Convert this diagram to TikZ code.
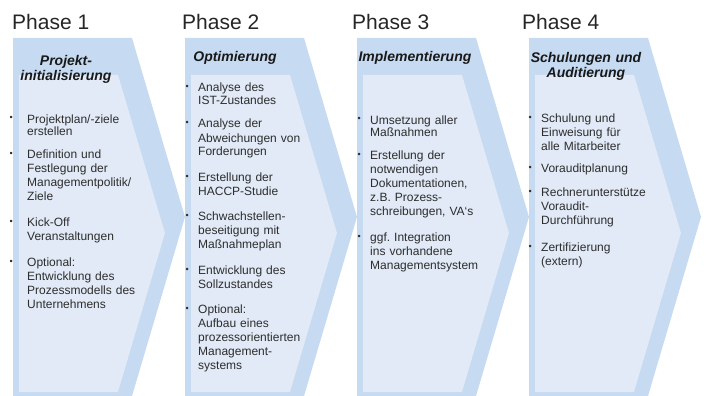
\documentclass[tikz,border=0pt]{standalone}
\usepackage{fontspec}
\setmainfont{Liberation Sans}
\usepackage{xcolor}
\definecolor{bandblue}{RGB}{198,218,241}
\definecolor{paleblue}{RGB}{225,234,246}
\definecolor{textgray}{RGB}{45,45,45}
\frenchspacing
\newcommand{\bul}[1]{\llap{\raisebox{2pt}{\fontsize{9}{9}\selectfont\textbullet}\hspace{#1}}}
\tikzset{
    phase/.style={font=\fontsize{21}{21}\selectfont, text=black!85, anchor=base west, inner sep=0pt},
    heading/.style={font=\fontsize{14}{15}\selectfont\bfseries\itshape, text=black!90, text width=130pt, align=center, anchor=base, inner sep=0pt},
    entry/.style={font=\fontsize{12}{14}\selectfont, text=textgray, text width=150pt, align=left, anchor=base west, inner sep=0pt},
    tight/.style={font=\fontsize{12}{11}\selectfont}
}

\begin{document}
\begin{tikzpicture}[x=1pt, y=-1pt]
    \useasboundingbox (0,0) rectangle (707,396);

    % Chevrons
    \foreach \o in {0,172,344,516} {
        \fill[bandblue] (13+\o,38) -- (132+\o,38) -- (185+\o,217) -- (132+\o,396) -- (13+\o,396) -- cycle;
        \fill[paleblue] (19+\o,75) -- (118+\o,75) -- (165+\o,233) -- (118+\o,392) -- (19+\o,392) -- cycle;
    }

    % Phase titles
    \node[phase] (p1) at (12,30) {Phase 1};
    \node[phase] (p2) at (182,30) {Phase 2};
    \node[phase] (p3) at (352,30) {Phase 3};
    \node[phase] (p4) at (522,30) {Phase 4};

    \node[heading] (h1) at (66,66) {Projekt-\\initialisierung};
    \node[heading] (h2) at (235,62) {Optimierung};
    \node[heading] (h3) at (415,62) {Implementierung};
    \node[heading] (h4) at (586,63) {Schulungen und\\Auditierung};

    % Phase 1
    \node[entry, tight] (e11) at (27,123) {\bul{14.5pt}Projektplan/-ziele\\erstellen};
    \node[entry] (e12) at (27,158) {\bul{14.5pt}Definition und\\Festlegung der\\Managementpolitik/\\Ziele};
    \node[entry] (e13) at (27,226) {\bul{14.5pt}Kick-Off\\Veranstaltungen};
    \node[entry] (e14) at (27,266) {\bul{14.5pt}Optional:\\Entwicklung des\\Prozessmodells des\\Unternehmens};

    % Phase 2
    \node[entry, tight] (e21) at (198,92) {\bul{9.5pt}Analyse des\\IST-Zustandes};
    \node[entry] (e22) at (198,128) {\bul{9.5pt}Analyse der\\Abweichungen von\\Forderungen};
    \node[entry] (e23) at (198,181) {\bul{9.5pt}Erstellung der\\HACCP-Studie};
    \node[entry] (e24) at (198,220) {\bul{9.5pt}Schwachstellen-\\beseitigung mit\\Maßnahmeplan};
    \node[entry] (e25) at (198,274) {\bul{9.5pt}Entwicklung des\\Sollzustandes};
    \node[entry] (e26) at (198,313) {\bul{9.5pt}Optional:\\Aufbau eines\\prozessorientierten\\Management-\\systems};

    % Phase 3
    \node[entry, tight] (e31) at (370,124) {\bul{9.5pt}Umsetzung aller\\Maßnahmen};
    \node[entry] (e32) at (370,159) {\bul{9.5pt}Erstellung der\\notwendigen\\Dokumentationen,\\z.B. Prozess-\\schreibungen, VA‘s};
    \node[entry] (e33) at (370,241) {\bul{9.5pt}ggf. Integration\\ins vorhandene\\Managementsystem};

    % Phase 4
    \node[entry] (e41) at (541,122) {\bul{9.5pt}Schulung und\\Einweisung für\\alle Mitarbeiter};
    \node[entry] (e42) at (541,172) {\bul{9.5pt}Vorauditplanung};
    \node[entry] (e43) at (541,196) {\bul{9.5pt}Rechnerunterstütze\\Voraudit-\\Durchführung};
    \node[entry] (e44) at (541,251) {\bul{9.5pt}Zertifizierung\\(extern)};
\end{tikzpicture}
\end{document}
